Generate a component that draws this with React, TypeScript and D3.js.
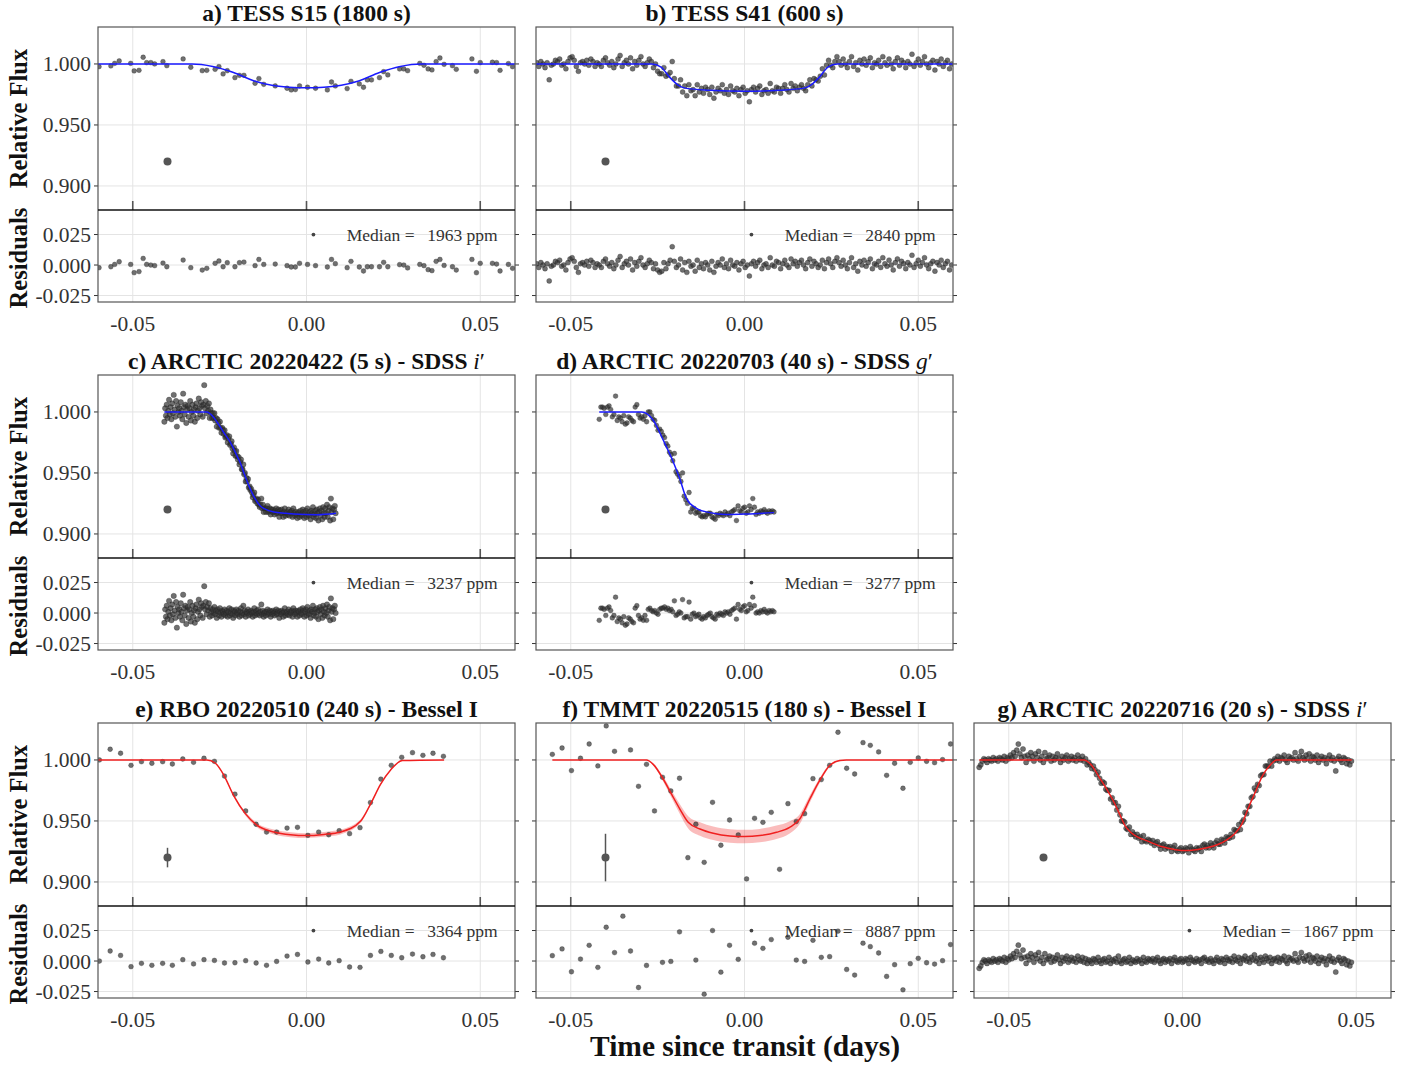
import React from 'react';
import * as d3 from 'd3';

// ---------- layout ----------
const W = 1413;
const H = 1066;
const colLeft = [98, 536, 974];
const rowTop = [27, 375, 723];
const panelW = 417;
const fluxH = 183;
const residH = 92;
const serif = "'Liberation Serif', 'Times New Roman', serif";

// ---------- axes ----------
const timeDomain: [number, number] = [-0.06, 0.06];
const fluxDomain: [number, number] = [0.8803, 1.0303];
const residDomain: [number, number] = [-0.0303, 0.0451];
const timeTicks = [-0.05, 0, 0.05];
const fluxTicks = [0.9, 0.95, 1.0];
const residTicks = [-0.025, 0, 0.025];

// flux and residuals below are stored in ppt (flux = 1 + v/1000, resid = v/1000)
// model curves are [time, ppt] knots

// a) TESS S15
const timeA = [-0.0597, -0.0563, -0.0552, -0.0539, -0.0506, -0.0496, -0.0482, -0.047, -0.046, -0.0448,
  -0.0437, -0.0413, -0.0402, -0.0355, -0.0333, -0.03, -0.0287, -0.0263, -0.0252, -0.024,
  -0.0228, -0.0206, -0.0193, -0.018, -0.0148, -0.0137, -0.0123, -0.009, -0.0056, -0.0044,
  -0.0032, -0.002, 0.0003, 0.0026, 0.006, 0.0072, 0.0083, 0.0117, 0.0128, 0.0152,
  0.0164, 0.0175, 0.0187, 0.021, 0.0222, 0.0234, 0.0268, 0.028, 0.0291, 0.0326,
  0.0338, 0.035, 0.0361, 0.0373, 0.0384, 0.0396, 0.042, 0.0431, 0.0476, 0.0489,
  0.05, 0.0535, 0.0547, 0.0557, 0.0581, 0.0593];
const fluxA = [-2.2, -1.6, 0.5, 2.5, 0.5, -5.7, -5.2, 5.5, 1.1, 1.1,
  0, 1.9, -1.4, 4.1, -2.7, -5.5, -5.2, -4.4, -2.2, -8.2,
  -5.5, -11.2, -9.3, -9.3, -15.8, -12, -16.7, -18, -19.9, -21.3,
  -21, -18, -19.1, -19.9, -21.3, -14.8, -18, -20.2, -14.2, -16.4,
  -19.1, -13.1, -13.1, -11.2, -6.3, -9, -4.1, -4.1, -5.5, 0.5,
  -1.1, -4.1, -4.9, 1.9, 4.9, -0.3, -1.4, -4.4, 4.1, -6,
  1.1, 1.4, 1.1, -5.2, 0.3, -2.2];
const residA = [-2.2, -1.4, 0.5, 2.7, 0.5, -6.3, -5.4, 5.4, 0.5, 0,
  -0.5, 1.6, -1.4, 4.1, -2.2, -4.1, -2.7, 1.4, 3.3, -1.4,
  1.9, -1.4, 1.9, 2.4, -0.5, 4.6, 0.5, 0.8, -0.5, -1.6,
  -1.6, 1.4, 0.5, -0.5, -1.6, 4.6, 1.1, -2.2, 3, -1.6,
  -4.9, -1.4, -1.4, -1.4, 2.2, -1.4, 0.3, 0, -2.4, 0.5,
  -0.5, -3.8, -4.6, 3, 4.6, -0.3, -1.4, -4.1, 4.6, -6.3,
  1.4, 1.4, 0.8, -4.9, 0.5, -2.7];
const modelA = [[-0.06, 0], [-0.033, 0], [-0.027, -2], [-0.021, -7], [-0.015, -14], [-0.01, -17.5],
  [-0.005, -19], [0, -19.5], [0.005, -19], [0.01, -17.5], [0.015, -14], [0.021, -7], [0.027, -2],
  [0.033, 0], [0.06, 0]];

// b) TESS S41 (uniform cadence)
const startB = -0.0598;
const stepB = 0.0006;
const fluxB = [1, -2, 2, 0, -3, 1, -13, -1, 0, 3,
  2, 4, -1, 0, -4, 2, 5, 6, 3, -2,
  -6, 1, 2, 0, 3, -1, 4, 2, -2, 1,
  0, -2, 3, 5, 1, -1, 2, -3, 0, 4,
  7, -2, 1, 3, 0, 5, -4, 2, -1, 3,
  6, 0, -2, 1, 4, 2, -3, 0, -6, -8,
  -8, -3, -10, -9, -7, 2, -12, -18, -18, -13,
  -23, -18, -26, -17, -22, -21, -26, -17, -23, -20,
  -24, -19, -21, -25, -19, -28, -23, -20, -22, -17,
  -24, -21, -25, -18, -22, -23, -20, -26, -21, -19,
  -24, -22, -31, -21, -19, -23, -20, -18, -25, -22,
  -21, -24, -16, -22, -23, -19, -20, -24, -20, -17,
  -21, -23, -16, -20, -18, -22, -19, -17, -20, -22,
  -17, -13, -18, -12, -13, -14, -10, -4, -9, -1,
  3, -1, -3, 2, 6, 2, -1, 4, 0, -3,
  2, 6, -2, 1, -5, 3, 0, 4, -1, 2,
  5, -3, 1, 0, 3, -2, 6, 1, -1, 4,
  0, -4, 2, 5, -1, 3, 1, -3, 2, 0,
  8, -2, 1, 4, -1, 2, 6, 0, -3, 1,
  3, -5, 2, 0, 4, -2, 1, 3, -4, 0];
const residB = [1, -2, 2, 0, -3, 1, -13, -1, 0, 3,
  2, 4, -1, 0, -4, 2, 5, 6, 3, -2,
  -6, 1, 2, 0, 3, -1, 4, 2, -2, 1,
  0, -2, 3, 5, 1, -1, 2, -3, 0, 4,
  7, -2, 1, 3, 0, 5, -4, 2, -1, 3,
  6, 0, -2, 1, 4, 2, -3, 1, -4, -6,
  -5, 2, -3, 1, 4, 15, 3, -2, 0, 5,
  -4, 2, -6, 3, -1, 0, -5, 4, -2, 1,
  -3, 2, 0, -4, 3, -6, -1, 2, 0, 5,
  -2, 1, -3, 4, 0, -1, 2, -4, 1, 3,
  -2, 0, -9, 1, 3, -1, 2, 4, -3, 0,
  1, -2, 6, 0, -1, 3, 2, -3, 1, 4,
  0, -2, 5, 1, 3, -1, 2, 4, 0, -3,
  2, 5, -1, 3, 1, -2, 0, 4, -3, 2,
  5, 1, -2, 3, 6, 2, -1, 4, 0, -3,
  2, 6, -2, 1, -5, 3, 0, 4, -1, 2,
  5, -3, 1, 0, 3, -2, 6, 1, -1, 4,
  0, -4, 2, 5, -1, 3, 1, -3, 2, 0,
  8, -2, 1, 4, -1, 2, 6, 0, -3, 1,
  3, -5, 2, 0, 4, -2, 1, 3, -4, 0];
const modelB = [[-0.06, 0], [-0.0267, 0], [-0.024, -2.5], [-0.0215, -11], [-0.019, -17.5], [-0.0167, -20],
  [-0.01, -21.5], [0, -22.4], [0.01, -21.5], [0.0167, -20], [0.019, -17.5], [0.0215, -11],
  [0.024, -2.5], [0.0267, 0], [0.06, 0]];

// c) ARCTIC 20220422 (uniform cadence)
const startC = -0.0409;
const stepC = 0.000225;
const fluxC = [-8, 3, -3, 6, -5, 1, 10, -2, 4, -6,
  7, -1, 14, 2, -4, 9, -12, 5, 0, 3,
  -3, 8, 1, -6, 15, 4, -2, 6, -9, 2,
  5, -4, 3, 9, -7, 0, 6, -3, 2, -8,
  4, 7, -5, 1, 11, 3, -2, 8, 5, -4,
  6, 22, 3, 9, -1, 5, 1, 7, -5, 2,
  -1, -5, -1, -5, -1, -7, -5, -12, -6, -9,
  -13, -8, -13, -17, -13, -15, -18, -15, -21, -20,
  -19, -25, -22, -20, -27, -26, -24, -30, -34, -29,
  -32, -36, -32, -36, -39, -37, -43, -41, -39, -47,
  -47, -43, -51, -50, -57, -54, -57, -55, -62, -61,
  -64, -63, -66, -70, -68, -66, -73, -72, -71, -75,
  -72, -76, -78, -76, -71, -79, -76, -82, -79, -79,
  -82, -79, -77, -82, -81, -79, -84, -80, -82, -80,
  -82, -84, -81, -79, -83, -82, -80, -86, -81, -83,
  -80, -83, -86, -82, -79, -85, -83, -82, -84, -80,
  -85, -82, -83, -81, -86, -79, -83, -85, -82, -84,
  -87, -82, -83, -86, -81, -84, -85, -80, -82, -87,
  -83, -81, -86, -79, -84, -85, -82, -88, -81, -83,
  -78, -86, -84, -81, -87, -80, -83, -89, -82, -79,
  -85, -81, -88, -78, -83, -86, -79, -83, -76, -86,
  -81, -78, -89, -71, -82, -79, -88, -80, -77, -83];
const residC = [-8, 3, -3, 6, -5, 1, 10, -2, 4, -6,
  7, -1, 14, 2, -4, 9, -12, 5, 0, 3,
  -3, 8, 1, -6, 15, 4, -2, 6, -9, 2,
  5, -4, 3, 9, -7, 0, 6, -3, 2, -8,
  4, 7, -5, 1, 11, 3, -2, 8, 5, -4,
  6, 22, 3, 9, -1, 5, 2, 8, -3, 4,
  1, -2, 3, 0, 5, -1, 2, -4, 3, 1,
  -2, 4, 0, -3, 2, 1, -1, 3, -2, 0,
  2, -3, 1, 4, -2, 0, 3, -1, -4, 2,
  1, -2, 3, 0, -1, 2, -3, 1, 4, -2,
  0, 6, -1, 2, -3, 1, 0, 3, -2, 1,
  -1, 2, 0, -3, 1, 4, -2, 0, 2, -1,
  3, 0, -2, 1, 7, -1, 2, -3, 0, 1,
  -2, 1, 3, -1, 0, 2, -3, 1, -1, 2,
  0, -2, 1, 3, -1, 0, 2, -4, 1, -1,
  2, 0, -3, 1, 4, -2, 0, 1, -1, 3,
  -2, 1, 0, 2, -3, 4, 1, -1, 2, 0,
  -3, 2, 1, -2, 3, 0, -1, 4, 2, -3,
  1, 3, -2, 5, 0, -1, 2, -4, 3, 1,
  6, -2, 0, 3, -3, 4, 1, -5, 2, 5,
  -1, 3, -4, 6, 1, -2, 4, 0, 7, -3,
  2, 5, -6, 12, 1, 4, -5, 3, 6, 0];
const modelC = [[-0.0409, 0], [-0.0287, 0], [-0.0275, -2], [-0.0258, -8], [-0.024, -16], [-0.0219, -25],
  [-0.02, -36], [-0.019, -42], [-0.018, -50], [-0.0162, -63], [-0.015, -70], [-0.0133, -77],
  [-0.012, -79.5], [-0.0094, -82], [-0.006, -83], [-0.0037, -83.6], [0.0031, -84.2], [0.0085, -83]];

// d) ARCTIC 20220703 (uniform cadence)
const startD = -0.0418;
const stepD = 0.00047;
const fluxD = [-6, 4, 4, 3, -2, 4, 5, 2, -4, -2, 13,
  -7, -4, -5, -8, -3, -10, -9, -4, -5, -7, -8, 4, 6, -2, -5, -4,
  -6, -3, -8, 0, 0, -3, -6, -7, -11, -15, -14, -16, -19, -21, -26, -28, -33, -35, -40,
  -34, -49, -51, -53, -57, -50, -69, -72, -75, -66, -82, -79, -79, -83, -82,
  -82, -85, -86, -85, -86, -84, -83, -83, -86, -87, -88, -84, -85, -83, -84, -85, -82, -84, -83, -85,
  -82, -81, -80, -89, -77, -81, -82, -79, -78, -83, -82, -77, -80, -71, -78, -84, -82, -83, -81, -82,
  -80, -82, -83, -81, -82, -81, -82];
const residD = [-6, 4, 4, 3, -2, 4, 5, 2, -4, -2, 13,
  -7, -4, -5, -8, -3, -10, -9, -4, -5, -7, -8, 4, 6, -2, -5, -4,
  -6, -2, -6, 3, 4, 2, 1, 2, 0, -1, 3, 4, 4, 5, 3, 4, 2, 3, 1,
  10, -2, -1, 1, 0, 11, -4, -3, -3, 9, -5, -1, 0, -3, -2,
  -1, -4, -5, -3, -4, -2, -1, 0, -3, -4, -5, -1, -2, 0, -1, -2, 1, 0, 1, -1,
  2, 3, 4, -5, 7, 3, 2, 5, 6, 1, 2, 7, 4, 13, 6, 0, 1, 0, 2, 1,
  3, 1, 0, 2, 1, 2, 1];
const modelD = [[-0.0418, 0], [-0.0296, 0], [-0.0262, -7], [-0.0234, -23], [-0.0205, -41], [-0.0186, -55],
  [-0.0167, -71], [-0.0138, -79], [-0.01, -82.5], [-0.0052, -84], [0.0006, -83.6], [0.0085, -82.5]];

// e) RBO 20220510
const timeE = [-0.0596, -0.0565, -0.0535, -0.0505, -0.0475, -0.0445, -0.0414, -0.0386, -0.0356, -0.0325,
  -0.0295, -0.0265, -0.0236, -0.0206, -0.0175, -0.0145, -0.0115, -0.0086, -0.0056, -0.0026,
  0.0004, 0.0035, 0.0064, 0.0094, 0.0124, 0.0154, 0.0184, 0.0214, 0.0244, 0.0274,
  0.0305, 0.0335, 0.0364, 0.0394];
const fluxE = [0, 8.8, 5.5, -4.4, -1.4, -2.7, -1.4, -3.3, 0.8, -1.9,
  1.4, -1.1, -13.2, -28, -41.8, -52.7, -59.1, -59.1, -55.8, -55.2,
  -61.8, -59.1, -61.3, -58, -60.4, -55.5, -34.9, -15.7, -4.4, 2.2,
  6, 3.8, 5.5, 3];
const residE = [0, 8.2, 4.6, -4.6, -1.9, -3.5, -1.9, -3.5, 1.1, -2.4,
  1.1, 0.5, -1.6, -1.4, 0.3, -1.6, -3.5, -0.3, 4.1, 5.4,
  -0.8, 1.6, -1.6, 0.3, -4.9, -5.2, 4.6, 7.9, 4.6, 2.7,
  5.7, 3.5, 5.4, 2.7];
const modelE = [[-0.06, 0], [-0.0287, 0], [-0.0262, -2.7], [-0.0238, -12.4], [-0.021, -29], [-0.0176, -44],
  [-0.0142, -53.6], [-0.0094, -59], [-0.0046, -61.3], [0, -62], [0.005, -61], [0.0098, -59],
  [0.0156, -50], [0.0185, -35.7], [0.0213, -20], [0.0242, -8.2], [0.0276, -0.5], [0.0396, 0]];
const bandE = [0, 0, 0.3, 0.6, 1, 1.5, 1.8, 2, 2, 2, 2, 2, 1.5, 1, 0.6, 0.3, 0, 0];

// f) TMMT 20220515
const timeF = [-0.0553, -0.0525, -0.0498, -0.0472, -0.0447, -0.0422, -0.0398, -0.0374, -0.035, -0.0328,
  -0.0305, -0.0282, -0.0259, -0.0236, -0.0212, -0.0187, -0.0163, -0.014, -0.0116, -0.0092,
  -0.0068, -0.0043, -0.0018, 0.0006, 0.0029, 0.0053, 0.0077, 0.0101, 0.0125, 0.0149,
  0.0173, 0.0197, 0.0221, 0.0245, 0.0269, 0.0294, 0.0317, 0.0341, 0.0362, 0.0386,
  0.0409, 0.0432, 0.0456, 0.0477, 0.05, 0.0524, 0.0547, 0.057, 0.0593];
const fluxF = [4.6, 9.8, -8.7, 1.4, 13.1, -4.9, 27.9, 7.1, 37, 8.2,
  -21.6, -3.6, -41.8, -14.2, -25.4, -15, -80.1, -52.7, -83.9, -34.7,
  -69.9, -49.2, -61.5, -97.5, -47.8, -51.1, -42.9, -89.6, -35.8, -50.5,
  -44, -15.3, -16.1, -4.4, 22.7, -6.8, -11.5, 14.2, 12, 6.6,
  -12.6, -2.7, -23.2, -1.9, 1.6, -1.1, -2.2, 0.3, 13.1];
const residF = [4.4, 9.9, -8.8, 1.6, 12.9, -5.2, 27.7, 6.9, 36.8, 8.2,
  -21.7, -3.6, -35, -1.1, -0.3, 23.9, -37, 0.8, -27.2, 25,
  -9.1, 12.9, 1.4, -35, 14.6, 10.4, 17.6, -33, 19.5, 0.8,
  -0.3, 17, 3, 3.6, 24.5, -6.9, -11.5, 14.6, 11.8, 6.6,
  -12.6, -3, -23.6, -2.2, 2.2, -1.4, -2.5, 0.3, 13.5];
const modelF = [[-0.0553, 0], [-0.0282, 0], [-0.0262, -3.8], [-0.0234, -15.6], [-0.021, -28], [-0.0186, -40.2],
  [-0.0162, -51.1], [-0.0128, -56.6], [-0.009, -60.1], [-0.0042, -62.3], [0, -62.8], [0.0044, -62],
  [0.0092, -59.3], [0.013, -55.2], [0.0159, -48.4], [0.0188, -32], [0.0216, -17], [0.0245, -4.6],
  [0.0274, -0.5], [0.0293, 0], [0.06, 0]];
const bandF = [0, 0, 1, 2, 3, 4, 5, 5.5, 5.5, 5.5, 5.5, 5.5, 5.5, 5, 4, 3, 2, 1, 0.5, 0, 0];

// g) ARCTIC 20220716 (uniform cadence)
const startG = -0.0585;
const stepG = 0.00045;
const fluxG = [-6, -4, -1, 1, 0, -2, 1, 0, -1, 2,
  0, 1, -1, 2, 1, 0, 3, -1, 2, 1,
  4, 2, 6, 3, 8, 13, 5, 2, 9, 3,
  -2, 4, 1, 6, 3, -1, 5, 2, 7, 0,
  3, -2, 6, 1, 2, 4, -1, 3, 0, 2,
  5, 1, -2, 3, 0, 2, 4, -1, 1, 3,
  0, 2, -1, 4, 1, 0, 3, -1, 1, -4,
  -2, -4, -7, -5, -8, -12, -10, -15, -19, -18,
  -19, -24, -25, -25, -32, -31, -35, -35, -41, -38,
  -45, -50, -50, -51, -56, -57, -55, -61, -59, -61,
  -63, -61, -64, -63, -67, -62, -66, -67, -65, -66,
  -68, -66, -70, -68, -67, -70, -73, -70, -69, -73,
  -71, -72, -71, -75, -72, -70, -74, -75, -73, -72,
  -75, -74, -72, -73, -76, -71, -73, -74, -75, -72,
  -73, -72, -75, -70, -69, -72, -70, -72, -68, -70,
  -72, -68, -66, -69, -69, -65, -66, -68, -63, -64,
  -64, -61, -63, -57, -58, -58, -53, -57, -51, -49,
  -43, -44, -38, -38, -31, -30, -23, -25, -20, -21,
  -13, -12, -12, -5, -5, -5, -1, -5, -1, 1,
  0, 3, -1, 2, 1, 4, 0, -2, 3, 1,
  2, 0, 6, 1, -1, 3, 7, 2, 0, 4,
  1, 5, -1, 3, 2, 0, 4, -2, 1, 3,
  0, 2, -3, 1, 4, 0, 2, -1, -9, 1,
  3, 0, -2, 2, 1, -3, 0, -4, -1];
const residG = [-6, -4, -1, 1, 0, -2, 1, 0, -1, 2,
  0, 1, -1, 2, 1, 0, 3, -1, 2, 1,
  4, 2, 6, 3, 8, 13, 5, 2, 9, 3,
  -2, 4, 1, 6, 3, -1, 5, 2, 7, 0,
  3, -2, 6, 1, 2, 4, -1, 3, 0, 2,
  5, 1, -2, 3, 0, 2, 4, -1, 1, 3,
  0, 2, -1, 4, 1, 0, 3, -1, 2, -2,
  1, 0, -2, 2, 1, -1, 3, 0, -2, 1,
  2, -1, 0, 3, -2, 1, 0, 2, -1, 4,
  0, -2, 1, 2, -1, 0, 3, -2, 1, 0,
  -1, 2, 0, 1, -2, 3, 0, -1, 2, 1,
  0, 2, -1, 1, 3, 0, -2, 1, 2, -1,
  1, 0, 2, -2, 1, 3, 0, -1, 1, 2,
  -1, 0, 2, 1, -2, 3, 1, 0, -1, 2,
  0, 1, -2, 2, 3, 0, 1, -1, 2, 0,
  -2, 1, 3, 0, -1, 2, 1, -2, 3, 1,
  0, 2, -1, 4, 1, 0, 3, -2, 2, 1,
  4, 0, 2, -1, 3, 1, 5, 0, 2, -2,
  3, 1, -1, 4, 2, 0, 3, -2, 1, 2,
  0, 3, -1, 2, 1, 4, 0, -2, 3, 1,
  2, 0, 6, 1, -1, 3, 7, 2, 0, 4,
  1, 5, -1, 3, 2, 0, 4, -2, 1, 3,
  0, 2, -3, 1, 4, 0, 2, -1, -9, 1,
  3, 0, -2, 2, 1, -3, 0, -4, -1];
const modelG = [[-0.0585, 0], [-0.0284, 0], [-0.026, -5], [-0.024, -14], [-0.022, -23], [-0.02, -33],
  [-0.018, -45], [-0.0165, -54], [-0.015, -59], [-0.013, -63], [-0.01, -66.5], [-0.006, -71],
  [-0.002, -73.5], [0.001, -74.3], [0.004, -73.5], [0.007, -72], [0.01, -69.5], [0.013, -65],
  [0.015, -60.5], [0.017, -53], [0.019, -39], [0.021, -26], [0.023, -13], [0.025, -5],
  [0.0271, 0], [0.0487, 0]];

// median residual scatter (ppm) and reference error bar half-length (ppt)
const medians = [1963, 2840, 3237, 3277, 3364, 8887, 1867];
const errBars = [0, 0, 0, 0, 8, 19.5, 0];

const cadence = (start: number, step: number, n: number) => d3.range(n).map(i => start + i * step);

const BLUE = '#1a1aff';
const RED = '#f02020';

const panels = [
  { id: 'a', col: 0, row: 0, title: 'a) TESS S15 (1800 s)', filt: '', t: timeA, f: fluxA, r: residA, model: modelA, band: null, color: BLUE, dotR: 2.4 },
  { id: 'b', col: 1, row: 0, title: 'b) TESS S41 (600 s)', filt: '', t: cadence(startB, stepB, fluxB.length), f: fluxB, r: residB, model: modelB, band: null, color: BLUE, dotR: 2.5 },
  { id: 'c', col: 0, row: 1, title: 'c) ARCTIC 20220422 (5 s) - SDSS ', filt: 'i', t: cadence(startC, stepC, fluxC.length), f: fluxC, r: residC, model: modelC, band: null, color: BLUE, dotR: 2.7 },
  { id: 'd', col: 1, row: 1, title: 'd) ARCTIC 20220703 (40 s) - SDSS ', filt: 'g', t: cadence(startD, stepD, fluxD.length), f: fluxD, r: residD, model: modelD, band: null, color: BLUE, dotR: 2.4 },
  { id: 'e', col: 0, row: 2, title: 'e) RBO 20220510 (240 s) - Bessel I', filt: '', t: timeE, f: fluxE, r: residE, model: modelE, band: bandE, color: RED, dotR: 2.4 },
  { id: 'f', col: 1, row: 2, title: 'f) TMMT 20220515 (180 s) - Bessel I', filt: '', t: timeF, f: fluxF, r: residF, model: modelF, band: bandF, color: RED, dotR: 2.4 },
  { id: 'g', col: 2, row: 2, title: 'g) ARCTIC 20220716 (20 s) - SDSS ', filt: 'i', t: cadence(startG, stepG, fluxG.length), f: fluxG, r: residG, model: modelG, band: null, color: RED, dotR: 2.6 },
];

type PanelSpec = typeof panels[number];

function LightCurve({ p, idx }: { p: PanelSpec; idx: number }) {
  const x0 = colLeft[p.col];
  const y0 = rowTop[p.row];
  const fluxBottom = y0 + fluxH;
  const residBottom = fluxBottom + residH;
  const x = d3.scaleLinear().domain(timeDomain).range([x0, x0 + panelW]);
  const yF = d3.scaleLinear().domain(fluxDomain).range([fluxBottom, y0]);
  const yR = d3.scaleLinear().domain(residDomain).range([residBottom, fluxBottom]);
  const fmt3 = d3.format('.3f');
  const fmt2 = d3.format('.2f');

  const line = d3.line<number[]>()
    .x(d => x(d[0]))
    .y(d => yF(1 + d[1] / 1000))
    .curve(d3.curveMonotoneX);
  const band = p.band;
  const area = band
    ? d3.area<number[]>()
        .x(d => x(d[0]))
        .y0((d, i) => yF(1 + (d[1] - band[i]) / 1000))
        .y1((d, i) => yF(1 + (d[1] + band[i]) / 1000))
        .curve(d3.curveMonotoneX)
    : null;

  const err = errBars[idx];
  const showY = p.col === 0;
  const tickCol = '#333';
  const grid = '#e4e4e4';

  return (
    <g>
      <defs>
        <clipPath id={`cf-${p.id}`}>
          <rect x={x0} y={y0} width={panelW} height={fluxH} />
        </clipPath>
        <clipPath id={`cr-${p.id}`}>
          <rect x={x0} y={fluxBottom} width={panelW} height={residH} />
        </clipPath>
      </defs>

      {/* title */}
      <text x={x0 + panelW / 2} y={y0 - 6} textAnchor="middle" fontFamily={serif} fontWeight="bold" fontSize={23.5} fill="#111">
        {p.title}
        {p.filt && <tspan fontStyle="italic" fontWeight="normal">{p.filt}</tspan>}
        {p.filt && <tspan fontWeight="normal">{'\u2032'}</tspan>}
      </text>

      {/* grid */}
      {timeTicks.map(t => (
        <g key={`gx${t}`}>
          <line x1={x(t)} x2={x(t)} y1={y0} y2={fluxBottom} stroke={grid} strokeWidth={1} />
          <line x1={x(t)} x2={x(t)} y1={fluxBottom} y2={residBottom} stroke={grid} strokeWidth={1} />
        </g>
      ))}
      {fluxTicks.map(v => (
        <line key={`gf${v}`} x1={x0} x2={x0 + panelW} y1={yF(v)} y2={yF(v)} stroke={grid} strokeWidth={1} />
      ))}
      {residTicks.map(v => (
        <line key={`gr${v}`} x1={x0} x2={x0 + panelW} y1={yR(v)} y2={yR(v)} stroke={grid} strokeWidth={1} />
      ))}

      {/* flux panel */}
      <g clipPath={`url(#cf-${p.id})`}>
        {area && <path d={area(p.model) || ''} fill={RED} fillOpacity={0.3} />}
        {p.t.map((t, i) => (
          <circle key={i} cx={x(t)} cy={yF(1 + p.f[i] / 1000)} r={p.dotR} fill="#333" fillOpacity={0.7} stroke="#222" strokeOpacity={0.6} strokeWidth={0.5} />
        ))}
        <path d={line(p.model) || ''} fill="none" stroke={p.color} strokeWidth={1.5} />
        {err > 0 && (
          <line x1={x(-0.04)} x2={x(-0.04)} y1={yF(0.92 - err / 1000)} y2={yF(0.92 + err / 1000)} stroke="#555" strokeWidth={1.5} />
        )}
        <circle cx={x(-0.04)} cy={yF(0.92)} r={4} fill="#555" />
      </g>

      {/* residual panel */}
      <g clipPath={`url(#cr-${p.id})`}>
        {p.t.map((t, i) => (
          <circle key={i} cx={x(t)} cy={yR(p.r[i] / 1000)} r={p.dotR} fill="#333" fillOpacity={0.7} stroke="#222" strokeOpacity={0.6} strokeWidth={0.5} />
        ))}
        <circle cx={x(0.002)} cy={yR(0.025)} r={1.9} fill="#444" />
        <text x={x(0.0116)} y={yR(0.025)} dy="0.35em" fontFamily={serif} fontSize={17.5} fill="#333">Median =</text>
        <text x={x(0.055)} y={yR(0.025)} dy="0.35em" textAnchor="end" fontFamily={serif} fontSize={17.5} fill="#333">
          {`${medians[idx]} ppm`}
        </text>
      </g>

      {/* inner x ticks at bottom of flux panel */}
      {timeTicks.map(t => (
        <line key={`tx${t}`} x1={x(t)} x2={x(t)} y1={fluxBottom - 9} y2={fluxBottom} stroke="#555" strokeWidth={1.6} />
      ))}

      {/* y ticks both sides */}
      {fluxTicks.map(v => (
        <g key={`tf${v}`}>
          <line x1={x0 - 4} x2={x0} y1={yF(v)} y2={yF(v)} stroke={tickCol} strokeWidth={1} />
          <line x1={x0 + panelW} x2={x0 + panelW + 4} y1={yF(v)} y2={yF(v)} stroke={tickCol} strokeWidth={1} />
        </g>
      ))}
      {residTicks.map(v => (
        <g key={`tr${v}`}>
          <line x1={x0 - 4} x2={x0} y1={yR(v)} y2={yR(v)} stroke={tickCol} strokeWidth={1} />
          <line x1={x0 + panelW} x2={x0 + panelW + 4} y1={yR(v)} y2={yR(v)} stroke={tickCol} strokeWidth={1} />
        </g>
      ))}

      {/* borders */}
      <rect x={x0} y={y0} width={panelW} height={fluxH + residH} fill="none" stroke="#555" strokeWidth={1.2} />
      <line x1={x0} x2={x0 + panelW} y1={fluxBottom} y2={fluxBottom} stroke="#111" strokeWidth={1.5} />

      {/* tick labels */}
      {showY && fluxTicks.map(v => (
        <text key={`lf${v}`} x={x0 - 7} y={yF(v)} dy="0.35em" textAnchor="end" fontFamily={serif} fontSize={21.5} fill={tickCol}>
          {fmt3(v)}
        </text>
      ))}
      {showY && residTicks.map(v => (
        <text key={`lr${v}`} x={x0 - 7} y={yR(v)} dy="0.35em" textAnchor="end" fontFamily={serif} fontSize={21.5} fill={tickCol}>
          {fmt3(v).replace('\u2212', '-')}
        </text>
      ))}
      {timeTicks.map(t => (
        <text key={`lx${t}`} x={x(t)} y={residBottom + 29} textAnchor="middle" fontFamily={serif} fontSize={21.5} fill={tickCol}>
          {fmt2(t).replace('\u2212', '-')}
        </text>
      ))}

      {/* y titles */}
      {showY && (
        <>
          <text transform={`translate(${18},${y0 + fluxH / 2}) rotate(-90)`} textAnchor="middle" dy="0.35em" fontFamily={serif} fontWeight="bold" fontSize={24.5} fill="#111">
            Relative Flux
          </text>
          <text transform={`translate(${18},${fluxBottom + residH / 2 + 2}) rotate(-90)`} textAnchor="middle" dy="0.35em" fontFamily={serif} fontWeight="bold" fontSize={24.5} fill="#111">
            Residuals
          </text>
        </>
      )}
    </g>
  );
}

export default function App() {
  return (
    <svg width={W} height={H} viewBox={`0 0 ${W} ${H}`} style={{ position: 'absolute', left: 0, top: 0, background: '#fff' }}>
      <rect x={0} y={0} width={W} height={H} fill="#fff" />
      {panels.map((p, i) => (
        <LightCurve key={p.id} p={p} idx={i} />
      ))}
      <text x={745} y={1056} textAnchor="middle" fontFamily={serif} fontWeight="bold" fontSize={29.5} fill="#111">
        Time since transit (days)
      </text>
    </svg>
  );
}
